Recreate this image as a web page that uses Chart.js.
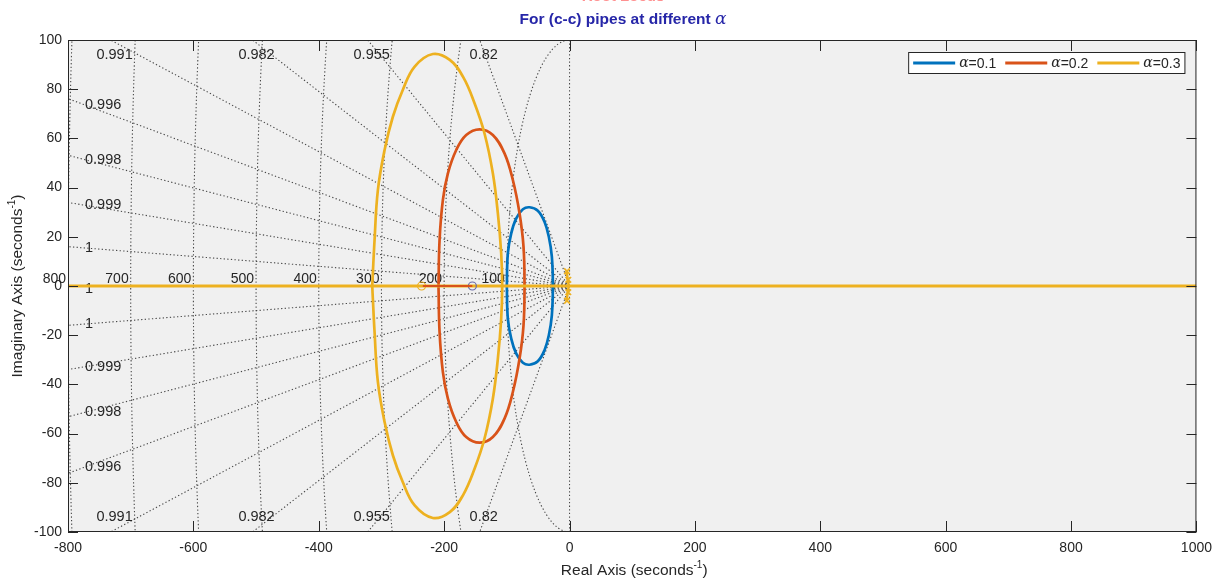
<!DOCTYPE html>
<html lang="en">
<head>
  <meta charset="UTF-8" />
  <title>Root Locus</title>
  <script src="https://cdn.jsdelivr.net/npm/chart.js"></script>
  <style>
    html, body { margin: 0; padding: 0; background: #fff; }
    #wrap { width: 1220px; height: 581px; }
  </style>
</head>
<body>
  <div id="wrap"><canvas id="locus"></canvas></div>
  <script>
    // series (Re, Im in seconds^-1)
    const alphaLabels = ['0.1', '0.2', '0.3'];
    const seriesColors = ['#0072BD', '#D95319', '#EDB120'];

    const blueRe = [-100, -98.4, -93, -85, -74.4, -63.8, -50.6, -39.9, -33, -28.2, -26.6,
                    -28.2, -33, -39.9, -50.6, -63.8, -74.4, -85, -93, -98.4, -100];
    const blueIm = [0, 13.3, 21.4, 27.5, 31.2, 32, 30.6, 26.1, 20, 11.9, 0,
                    -11.9, -20, -26.1, -30.6, -32, -31.2, -27.5, -21.4, -13.3, 0];

    const orangeRe = [-209, -207.3, -202, -194, -180.7, -164.8, -143.5, -122.3, -103.7, -90.4, -79.7, -73.4, -71.8,
                      -73.4, -79.7, -90.4, -103.7, -122.3, -143.5, -164.8, -180.7, -194, -202, -207.3, -209];
    const orangeIm = [0, 18.7, 35, 45.8, 55.3, 61.4, 63.7, 61.4, 53.9, 43.1, 29.5, 16, 0,
                      -16, -29.5, -43.1, -53.9, -61.4, -63.7, -61.4, -55.3, -45.8, -35, -18.7, 0];

    const yellowRe = [-314.7, -311, -305.7, -295, -281.8, -266, -247, -218, -191, -170, -151.5, -135.6, -122.3, -114.3, -109, -107.4,
                      -109, -114.3, -122.3, -135.6, -151.5, -170, -191, -218, -247, -266, -281.8, -295, -305.7, -311, -314.7];
    const yellowIm = [0, 18.7, 39, 55.3, 68.8, 79.7, 89.2, 94.3, 91.9, 85.1, 74.3, 62, 45.8, 29.5, 13.3, 0,
                      -13.3, -29.5, -45.8, -62, -74.3, -85.1, -91.9, -94.3, -89.2, -79.7, -68.8, -55.3, -39, -18.7, 0];

    // real-axis branches
    const yellowAxisRe = [-800, 1000];
    const orangeAxisRe = [-234, -155];

    // small yellow branch right at the origin
    const yellowNearRe = [-5, -3, -1.5, -3, -5];
    const yellowNearIm = [6.5, 3, 0, -3, -6.5];

    // zeros (o) and poles (x)
    const zeroRe = [-236, -155];
    const zeroColors = ['#EDB120', '#6a6aa8'];
    const poleRe = [-4, -2, -2, -4];
    const poleIm = [6, 2.5, -2.5, -6];

    // s-plane grid
    const zetaValues = [0, 0.82, 0.955, 0.981, 0.9908, 0.9955, 0.9978, 0.9991, 0.9998, 1];
    const zetaLabels = ['', '0.82', '0.955', '0.982', '0.991', '0.996', '0.998', '0.999', '1', '1'];
    const freqValues = [100, 200, 300, 400, 500, 600, 700, 800];
    const freqLabels = ['100', '200', '300', '400', '500', '600', '700', '800'];

    const xTicks = [-800, -600, -400, -200, 0, 200, 400, 600, 800, 1000];
    const yTicks = [-100, -80, -60, -40, -20, 0, 20, 40, 60, 80, 100];

    const zip = (re, im) => re.map((v, i) => ({ x: v, y: im[i] }));
    const TXT = '#262626';
    const SANS = 'Arial, "Liberation Sans", sans-serif';
    const SERIF = '"DejaVu Serif", "Liberation Serif", serif';

    function richText(ctx, parts, cx, cy) {
      let w = 0;
      parts.forEach(p => { ctx.font = p.font; w += ctx.measureText(p.text).width; });
      let px = cx - w / 2;
      ctx.textAlign = 'left';
      ctx.textBaseline = 'middle';
      parts.forEach(p => {
        ctx.font = p.font;
        ctx.fillText(p.text, px, cy + (p.dy || 0));
        px += ctx.measureText(p.text).width;
      });
    }

    const sgridPlugin = {
      id: 'sgrid',
      beforeDatasetsDraw(chart) {
        const { ctx, chartArea: a, scales: { x, y } } = chart;
        const x0 = x.getPixelForValue(0), y0 = y.getPixelForValue(0);
        ctx.save();
        ctx.fillStyle = '#f0f0f0';
        ctx.fillRect(a.left, a.top, a.width, a.height);
        ctx.beginPath();
        ctx.rect(a.left, a.top, a.width, a.height);
        ctx.clip();
        ctx.setLineDash([1.3, 2.3]);
        ctx.strokeStyle = '#474747';
        ctx.lineWidth = 1.1;
        zetaValues.forEach(z => {
          const s = Math.sqrt(1 - z * z);
          [1, -1].forEach(sg => {
            ctx.beginPath();
            ctx.moveTo(x0, y0);
            ctx.lineTo(x.getPixelForValue(-z * 5000), y.getPixelForValue(sg * s * 5000));
            ctx.stroke();
          });
        });
        freqValues.forEach(r => {
          const rx = x0 - x.getPixelForValue(-r);
          const ry = y.getPixelForValue(-r) - y0;
          ctx.beginPath();
          ctx.ellipse(x0, y0, rx, ry, 0, Math.PI / 2, Math.PI * 1.5);
          ctx.stroke();
        });
        ctx.restore();

        // grid labels
        ctx.save();
        ctx.fillStyle = TXT;
        ctx.font = '14.5px ' + SANS;
        ctx.textBaseline = 'middle';
        zetaValues.forEach((z, i) => {
          const lab = zetaLabels[i];
          if (!lab) return;
          const s = Math.sqrt(1 - z * z);
          const reTop = s > 0 ? -z * y.max / s : -Infinity;
          const signs = s > 0 ? [1, -1] : [1];
          signs.forEach(sg => {
            if (reTop >= x.min) {
              ctx.textAlign = 'center';
              const ty = sg > 0 ? a.top + 15 : a.bottom - 15;
              ctx.fillText(lab, x.getPixelForValue(reTop) + 4, ty);
            } else {
              ctx.textAlign = 'left';
              const lx = a.left + 17;
              const re = x.getValueForPixel(lx);
              const im = -re * s / z;
              ctx.fillText(lab, lx, y.getPixelForValue(sg * im) + (s === 0 ? 3 : 0));
            }
          });
        });
        ctx.font = '14px ' + SANS;
        ctx.textAlign = 'right';
        ctx.textBaseline = 'alphabetic';
        freqValues.forEach((r, i) => {
          ctx.fillText(freqLabels[i], x.getPixelForValue(-r) - 2, y0 - 3);
        });
        ctx.restore();
      },
      afterDraw(chart) {
        const { ctx, chartArea: a, scales: { x, y } } = chart;
        ctx.save();
        // box and inward ticks
        ctx.strokeStyle = '#262626';
        ctx.lineWidth = 1;
        ctx.strokeRect(a.left + 0.5, a.top + 0.5, a.width - 1, a.height - 1);
        ctx.beginPath();
        xTicks.forEach(v => {
          const px = Math.round(x.getPixelForValue(v)) + 0.5;
          ctx.moveTo(px, a.bottom); ctx.lineTo(px, a.bottom - 11);
          ctx.moveTo(px, a.top); ctx.lineTo(px, a.top + 11);
        });
        yTicks.forEach(v => {
          const py = Math.round(y.getPixelForValue(v)) + 0.5;
          ctx.moveTo(a.left, py); ctx.lineTo(a.left + 10, py);
          ctx.moveTo(a.right, py); ctx.lineTo(a.right - 10, py);
        });
        ctx.stroke();

        // titles
        ctx.fillStyle = '#ff9090';
        ctx.font = 'bold 15px ' + SANS;
        ctx.textAlign = 'center';
        ctx.textBaseline = 'alphabetic';
        ctx.fillText('Root Locus', 623, 1);
        ctx.fillStyle = '#2626a8';
        richText(ctx, [
          { text: 'For (c-c) pipes at different ', font: 'bold 15.5px ' + SANS },
          { text: 'α', font: 'italic 17px ' + SERIF }
        ], 623, 20);

        // axis titles
        ctx.fillStyle = TXT;
        richText(ctx, [
          { text: 'Real Axis (seconds', font: '15.5px ' + SANS },
          { text: '-1', font: '10px ' + SANS, dy: -6 },
          { text: ')', font: '15.5px ' + SANS }
        ], (a.left + a.right) / 2 + 2, 571);
        ctx.save();
        ctx.translate(18, (a.top + a.bottom) / 2);
        ctx.rotate(-Math.PI / 2);
        richText(ctx, [
          { text: 'Imaginary Axis (seconds', font: '15.5px ' + SANS },
          { text: '-1', font: '10px ' + SANS, dy: -6 },
          { text: ')', font: '15.5px ' + SANS }
        ], 0, 0);
        ctx.restore();

        // legend
        const items = alphaLabels.map((l, i) => ({ label: '=' + l, color: seriesColors[i] }));
        const aFont = 'italic 14px ' + SERIF;
        const tFont = '14px ' + SANS;
        const widths = items.map(it => {
          ctx.font = aFont; const w = ctx.measureText('α').width;
          ctx.font = tFont; return w + ctx.measureText(it.label).width;
        });
        const lineLen = 42;
        let total = 5;
        widths.forEach((w, i) => { total += lineLen + 4 + w + (i < widths.length - 1 ? 9 : 4); });
        const bx = a.right - 12 - total, by = a.top + 12, bh = 21;
        ctx.fillStyle = '#fff';
        ctx.fillRect(bx, by, total, bh);
        ctx.strokeStyle = '#262626';
        ctx.lineWidth = 1;
        ctx.strokeRect(bx + 0.5, by + 0.5, total, bh);
        let cx = bx + 5;
        const cy = by + bh / 2 + 0.5;
        items.forEach((it, i) => {
          ctx.strokeStyle = it.color;
          ctx.lineWidth = 3;
          ctx.beginPath(); ctx.moveTo(cx, cy); ctx.lineTo(cx + lineLen, cy); ctx.stroke();
          cx += lineLen + 4;
          ctx.fillStyle = TXT;
          ctx.textAlign = 'left';
          ctx.textBaseline = 'middle';
          ctx.font = aFont; ctx.fillText('α', cx, cy);
          const aw = ctx.measureText('α').width;
          ctx.font = tFont; ctx.fillText(it.label, cx + aw, cy + 1);
          cx += widths[i] + 9;
        });
        ctx.restore();
      }
    };

    const lineSet = (data, color, order, width) => ({
      data, borderColor: color, backgroundColor: color, showLine: true,
      pointRadius: 0, borderWidth: width || 2.7, tension: 0.4, order
    });

    new Chart(document.getElementById('locus'), {
      type: 'scatter',
      data: {
        datasets: [
          lineSet(zip(orangeAxisRe, [0, 0]), seriesColors[1], 0, 2.2),
          {
            data: zip(poleRe, poleIm), pointStyle: 'crossRot', pointRadius: 4,
            borderColor: seriesColors[2], borderWidth: 1.6, showLine: false, order: 1
          },
          lineSet(zip(yellowNearRe, yellowNearIm), seriesColors[2], 1, 2.5),
          {
            data: zip(zeroRe, [0, 0]), pointStyle: 'circle', pointRadius: 4,
            borderColor: zeroColors, backgroundColor: 'rgba(0,0,0,0)', borderWidth: 1.2,
            showLine: false, order: 1
          },
          lineSet(zip(yellowAxisRe, [0, 0]), seriesColors[2], 2, 3.2),
          lineSet(zip(yellowRe, yellowIm), seriesColors[2], 3),
          lineSet(zip(orangeRe, orangeIm), seriesColors[1], 4),
          lineSet(zip(blueRe, blueIm), seriesColors[0], 5)
        ]
      },
      plugins: [sgridPlugin],
      options: {
        responsive: true,
        maintainAspectRatio: false,
        animation: false,
        layout: { padding: { top: 40, right: 23, left: 0, bottom: 0 } },
        plugins: { legend: { display: false }, tooltip: { enabled: false } },
        scales: {
          x: {
            type: 'linear', min: -800, max: 1000,
            afterBuildTicks: s => { s.ticks = xTicks.map(v => ({ value: v })); },
            afterFit: s => { s.height = 49; },
            grid: { display: false, drawTicks: false },
            border: { display: false },
            ticks: { color: TXT, font: { size: 14, family: SANS }, padding: 8, maxRotation: 0,
                     callback: v => String(v) }
          },
          y: {
            type: 'linear', min: -100, max: 100,
            afterBuildTicks: s => { s.ticks = yTicks.map(v => ({ value: v })); },
            afterFit: s => { s.width = 68; },
            grid: { display: false, drawTicks: false },
            border: { display: false },
            ticks: { color: TXT, font: { size: 14, family: SANS }, padding: 6,
                     callback: v => String(v) }
          }
        }
      }
    });
  </script>
</body>
</html>
